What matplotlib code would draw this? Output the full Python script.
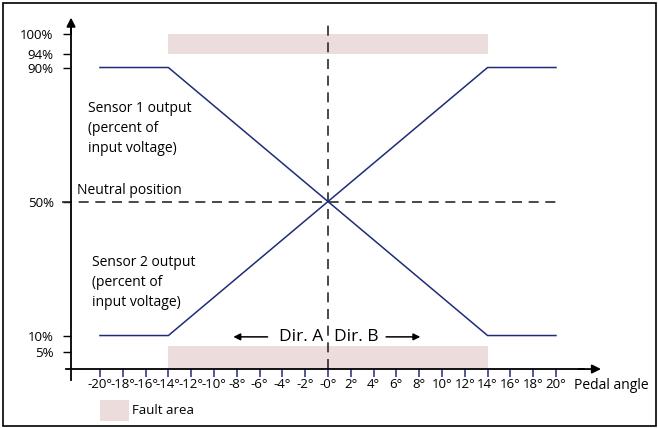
import matplotlib
matplotlib.use("Agg")
import matplotlib.pyplot as plt
from matplotlib.patches import Rectangle

plt.rcParams['font.family'] = ['Open Sans', 'DejaVu Sans']

# ---- data ----
angles = [-20, -14, 14, 20]
sensor1 = [90, 90, 10, 10]
sensor2 = [10, 10, 90, 90]
x_ticks = list(range(-20, 21, 2))
x_tick_labels = [f"{v}°" if v != 0 else "-0°" for v in x_ticks]
y_ticks = [5, 10, 50, 90, 94, 100]
y_tick_labels = ["5%", "10%", "50%", "90%", "94%", "100%"]
fault_x = (-14, 14)
fault_upper = (94, 100)
fault_lower = (0, 7)
neutral = 50

NAVY = "#1f2c78"
FAULT = "#ecdcdc"
DASH = "#2a2a2a"

fig = plt.figure(figsize=(6.58, 4.28), dpi=100)
ax = fig.add_axes([0, 0, 1, 1])
ax.set_xlim(-28.77, 28.95)
ax.set_ylim(-17.6, 110.15)
ax.patch.set_visible(False)

# fault areas
for lo, hi in (fault_upper, fault_lower):
    ax.add_patch(Rectangle((fault_x[0], lo), fault_x[1] - fault_x[0], hi - lo,
                           facecolor=FAULT, edgecolor='none', zorder=1))

# dashed reference lines
ax.plot([-23.3, 20.0], [neutral, neutral], ls=(0, (6, 4)), color=DASH, lw=1.2, zorder=2)
ax.plot([0, 0], [0, 104.2], ls=(0, (6, 4)), color=DASH, lw=1.2, zorder=2)

# sensor lines
ax.plot(angles, sensor1, color=NAVY, lw=1.1, zorder=3)
ax.plot(angles, sensor2, color=NAVY, lw=1.1, zorder=3)

# axes spines
for s in ('top', 'right'):
    ax.spines[s].set_visible(False)
ax.spines['left'].set_position(('data', -22.54))
ax.spines['bottom'].set_position(('data', 0))
ax.spines['left'].set_bounds(-3.3, 102)
ax.spines['bottom'].set_bounds(-23.0, 22.5)
ax.spines['left'].set_linewidth(1.3)
ax.spines['bottom'].set_linewidth(1.3)
ax.annotate('', xy=(-22.54, 104.9), xytext=(-22.54, 100),
            arrowprops=dict(arrowstyle='-|>', color='black', lw=1.3,
                            mutation_scale=13, shrinkA=0, shrinkB=0))
ax.annotate('', xy=(23.95, 0), xytext=(22.0, 0),
            arrowprops=dict(arrowstyle='-|>', color='black', lw=1.3,
                            mutation_scale=13, shrinkA=0, shrinkB=0))

ax.set_xticks(x_ticks)
ax.set_xticklabels(x_tick_labels)
ax.set_yticks(y_ticks)
ax.set_yticklabels(y_tick_labels)
ax.tick_params(axis='x', direction='out', length=5.5, width=1.1, color=NAVY,
               labelsize=9.5, pad=1.0)
ax.tick_params(axis='y', direction='out', length=6, width=1.0, color='black',
               labelsize=9.5, pad=6.5)

# texts
ax.text(-21.05, 79.9, "Sensor 1 output\n(percent of\ninput voltage)",
        ha='left', va='top', fontsize=10, linespacing=1.43)
ax.text(-20.7, 33.9, "Sensor 2 output\n(percent of\ninput voltage)",
        ha='left', va='top', fontsize=10, linespacing=1.43)
ax.text(-22.0, 51.0, "Neutral position", ha='left', va='bottom', fontsize=10)
ax.text(21.6, -5.0, "Pedal angle", ha='left', va='center', fontsize=10)

ax.text(-0.45, 9.6, "Dir. A", ha='right', va='center', fontsize=12.5)
ax.text(0.55, 9.6, "Dir. B", ha='left', va='center', fontsize=12.5)
ax.annotate('', xy=(-8.3, 9.6), xytext=(-5.3, 9.6),
            arrowprops=dict(arrowstyle='-|>', color='black', lw=1.1,
                            mutation_scale=10, shrinkA=0, shrinkB=0))
ax.annotate('', xy=(8.1, 9.6), xytext=(5.1, 9.6),
            arrowprops=dict(arrowstyle='-|>', color='black', lw=1.1,
                            mutation_scale=10, shrinkA=0, shrinkB=0))

# legend
ax.add_patch(Rectangle((-20, -15.5), 2.55, 6.25, facecolor=FAULT,
                       edgecolor='none', clip_on=False))
ax.text(-17.15, -12.4, "Fault area", ha='left', va='center', fontsize=9.5)

# figure border
fig.patches.append(Rectangle((2.5 / 658, 2.5 / 428), 653 / 658, 423 / 428,
                             transform=fig.transFigure, fill=False,
                             edgecolor='black', lw=1.2))

fig.savefig("out.png", dpi=100)
